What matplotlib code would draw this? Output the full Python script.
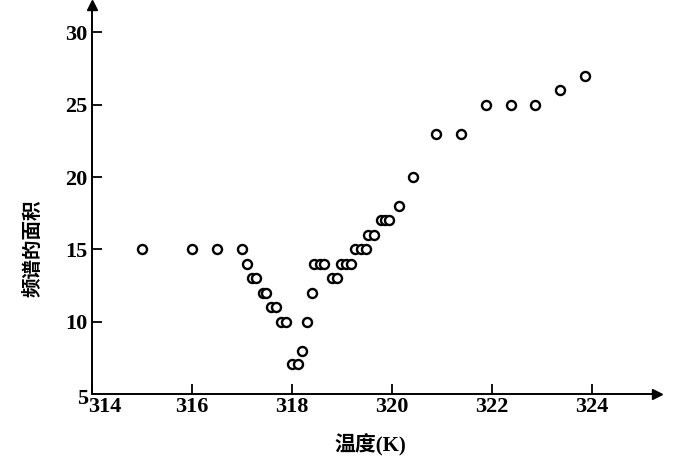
import numpy as np
import matplotlib.pyplot as plt
import matplotlib.transforms as mtransforms

# data
temp = [315.0, 316.0, 316.5, 317.0, 317.1, 317.2, 317.28, 317.41, 317.48,
        317.59, 317.68, 317.78, 317.88, 318.01, 318.11, 318.2, 318.31, 318.4,
        318.45, 318.55, 318.65, 318.79, 318.9, 318.97, 319.08, 319.17,
        319.27, 319.38, 319.47, 319.53, 319.64, 319.78, 319.87, 319.95,
        320.14, 320.41, 320.89, 321.38, 321.88, 322.38, 322.87, 323.37, 323.85]
area = [15, 15, 15, 15, 14, 13, 13, 12, 12,
        11, 11, 10, 10, 7.1, 7.1, 8, 10, 12,
        14, 14, 14, 13, 13, 14, 14, 14,
        15, 15, 15, 16, 16, 17, 17, 17,
        18, 20, 23, 23, 25, 25, 25, 26, 27]
xticks = [314, 316, 318, 320, 322, 324]
yticks = [5, 10, 15, 20, 25, 30]

plt.rcParams['font.family'] = ['Liberation Serif', 'Noto Sans CJK SC']

fig = plt.figure(figsize=(6.93, 4.72), dpi=100)
ax = fig.add_axes([92/693, 78/472, 565/693, 389/472])

ax.plot(temp, area, 'o', ms=6.5, mfc='white', mec='black', mew=1.7, clip_on=False)

ax.set_xlim(314, 325.3)
ax.set_ylim(5, 31.9)
ax.spines['top'].set_visible(False)
ax.spines['right'].set_visible(False)
ax.spines['left'].set_linewidth(1.4)
ax.spines['bottom'].set_linewidth(1.4)

# arrow heads at axis ends
ax.plot(1, 0, '>', color='black', ms=7, transform=ax.transAxes, clip_on=False)
ax.plot(0, 1, '^', color='black', ms=7, transform=ax.transAxes, clip_on=False)

ax.set_xticks(xticks)
ax.set_yticks(yticks)
ax.tick_params(direction='in', length=7, width=1.3, labelsize=16)
ax.tick_params(axis='x', pad=2)
ax.tick_params(axis='y', pad=3)
for lab in ax.get_xticklabels() + ax.get_yticklabels():
    lab.set_fontweight('bold')

# 314 sits a bit right of the corner, 5 a bit lower
lab314 = ax.get_xticklabels()[0]
lab314.set_transform(lab314.get_transform() + mtransforms.ScaledTranslation(13/100, 0, fig.dpi_scale_trans))
lab5 = ax.get_yticklabels()[0]
lab5.set_transform(lab5.get_transform() + mtransforms.ScaledTranslation(0, -2/100, fig.dpi_scale_trans))

fig.text(370/693, 1 - 445/472, '温度(K)', fontsize=15, fontweight='bold',
         family=['Liberation Serif', 'Noto Sans CJK SC'], ha='center', va='center')
fig.text(33/693, 1 - 248/472, '频谱的面积', fontsize=14, fontweight='bold',
         family=['Noto Sans CJK SC'], rotation=90, ha='center', va='center')

fig.savefig('out.png', dpi=100)
